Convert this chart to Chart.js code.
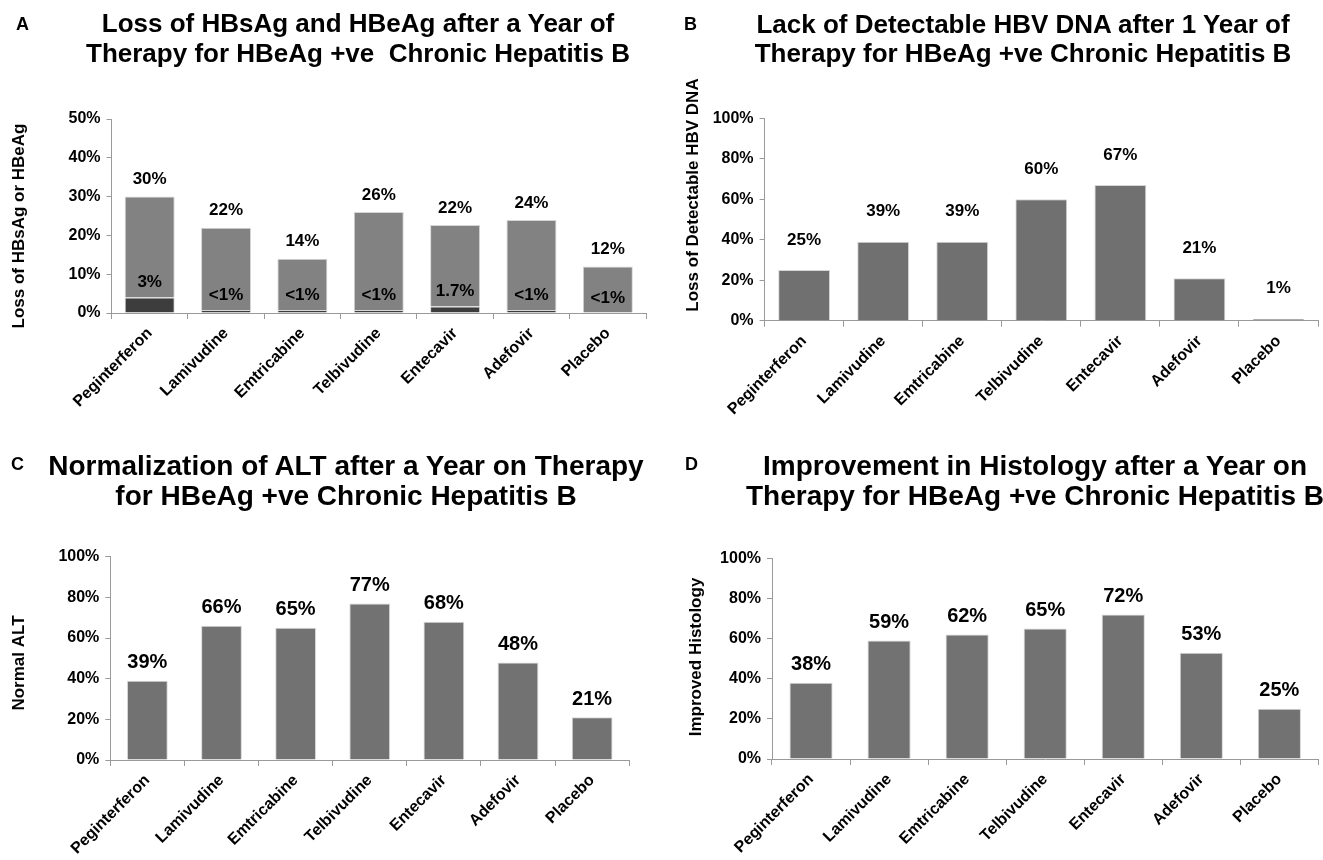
<!DOCTYPE html>
<html>
<head>
<meta charset="utf-8">
<script src="https://cdn.jsdelivr.net/npm/chart.js@4.4.1/dist/chart.umd.min.js"></script>
<style>
  html, body { margin: 0; padding: 0; background: #fff; }
  #page { position: relative; width: 1323px; height: 860px; overflow: hidden; background: #fff; }
  canvas { position: absolute; }
  .title { position: absolute; font-family: "Liberation Sans", Arial, sans-serif; font-weight: bold; color: #000;
           text-align: center; white-space: pre; z-index: 2; }
  .letter { position: absolute; font-family: "Liberation Sans", Arial, sans-serif; font-weight: bold; color: #000;
            font-size: 18px; line-height: 18px; z-index: 2; }
</style>
</head>
<body>
<div id="page">
  <div class="letter" style="left:16px; top:15px;">A</div>
  <div class="title" style="left:-42px; width:800px; top:9px; font-size:26px; line-height:29.5px;">Loss of HBsAg and HBeAg after a Year of
Therapy for HBeAg +ve  Chronic Hepatitis B</div>

  <div class="letter" style="left:684px; top:15px;">B</div>
  <div class="title" style="left:623px; width:800px; top:10px; font-size:26px; line-height:28.5px;">Lack of Detectable HBV DNA after 1 Year of
Therapy for HBeAg +ve Chronic Hepatitis B</div>

  <div class="letter" style="left:11px; top:455px;">C</div>
  <div class="title" style="left:-54px; width:800px; top:451px; font-size:28px; line-height:29.5px;">Normalization of ALT after a Year on Therapy
for HBeAg +ve Chronic Hepatitis B</div>

  <div class="letter" style="left:685px; top:455px;">D</div>
  <div class="title" style="left:635px; width:800px; top:451px; font-size:28px; line-height:29.5px;">Improvement in Histology after a Year on
Therapy for HBeAg +ve Chronic Hepatitis B</div>

  <canvas id="cA" width="660" height="430" style="left:0px; top:0px;"></canvas>
  <canvas id="cB" width="663" height="430" style="left:660px; top:0px;"></canvas>
  <canvas id="cC" width="660" height="430" style="left:0px; top:430px;"></canvas>
  <canvas id="cD" width="663" height="430" style="left:660px; top:430px;"></canvas>
</div>
<script>
// ---------------- DATA ----------------
const categories = ['Peginterferon', 'Lamivudine', 'Emtricabine', 'Telbivudine', 'Entecavir', 'Adefovir', 'Placebo'];

// Panel A: stacked bars (dark = HBsAg loss, light = remaining HBeAg loss)
const hbsagLoss      = [4, 0.8, 0.8, 0.8, 1.7, 0.8, 0];
const hbeagLossUpper = [26, 21.2, 13.2, 25.2, 21, 23.2, 12];
const hbeagLabels    = ['30%', '22%', '14%', '26%', '22%', '24%', '12%'];
const hbsagLabels    = ['3%', '<1%', '<1%', '<1%', '1.7%', '<1%', '<1%'];
const yTicksA        = ['0%', '10%', '20%', '30%', '40%', '50%'];

// Panel B
const hbvDnaUndetectable = [25, 39, 39, 60, 67, 21, 1];
const hbvDnaLabels       = ['25%', '39%', '39%', '60%', '67%', '21%', '1%'];

// Panel C
const altNormal   = [39, 66, 65, 77, 68, 48, 21];
const altLabels   = ['39%', '66%', '65%', '77%', '68%', '48%', '21%'];

// Panel D
const histologyImproved = [38, 59, 62, 65, 72, 53, 25];
const histologyLabels   = ['38%', '59%', '62%', '65%', '72%', '53%', '25%'];

const yTicksPct = ['0%', '20%', '40%', '60%', '80%', '100%'];

// ---------------- HELPERS ----------------
const FONT = '"Liberation Sans", Arial, sans-serif';
const AXIS_GREY = '#9a9a9a';

function labelPlugin(sets, size) {
  return {
    id: 'valueLabels',
    afterDatasetsDraw(chart) {
      const ctx = chart.ctx;
      ctx.save();
      ctx.font = 'bold ' + size + 'px ' + FONT;
      ctx.fillStyle = '#000';
      ctx.textAlign = 'center';
      ctx.textBaseline = 'middle';
      sets.forEach(set => {
        const meta = chart.getDatasetMeta(set.dataset);
        set.labels.forEach((txt, i) => {
          const el = meta.data[i];
          if (!el) return;
          let y = el.y;
          if (!isFinite(y)) y = chart.scales.y.getPixelForValue(0);
          ctx.fillText(txt, el.x, y - set.offset);
        });
      });
      ctx.restore();
    }
  };
}

function yTitlePlugin(text, x, y) {
  return {
    id: 'yTitle',
    afterDraw(chart) {
      const ctx = chart.ctx;
      ctx.save();
      ctx.translate(x, y);
      ctx.rotate(-Math.PI / 2);
      ctx.font = 'bold 17px ' + FONT;
      ctx.fillStyle = '#000';
      ctx.textAlign = 'center';
      ctx.textBaseline = 'middle';
      ctx.fillText(text, 0, 0);
      ctx.restore();
    }
  };
}

function makeChart(id, cfg) {
  const stacked = !!cfg.stacked;
  return new Chart(document.getElementById(id), {
    type: 'bar',
    data: { labels: categories, datasets: cfg.datasets },
    options: {
      responsive: false,
      animation: false,
      devicePixelRatio: 1,
      layout: { padding: cfg.padding },
      plugins: { legend: { display: false }, tooltip: { enabled: false }, title: { display: false } },
      datasets: { bar: { categoryPercentage: 1, barPercentage: cfg.barPct } },
      scales: {
        x: {
          stacked: stacked,
          grid: { display: true, drawOnChartArea: false, drawTicks: true, tickLength: 6, color: AXIS_GREY, offset: true },
          border: { display: true, color: AXIS_GREY, width: 1 },
          ticks: { autoSkip: false, maxRotation: 45, minRotation: 45, padding: 5, color: '#000',
                   font: { family: FONT, size: 16, weight: 'bold' } },
          afterFit(scale) { scale.height = cfg.xHeight; }
        },
        y: {
          stacked: stacked,
          min: 0, max: cfg.yMax,
          ticks: { stepSize: cfg.yStep, padding: 6, color: '#000',
                   font: { family: FONT, size: 16, weight: 'bold' },
                   callback: (v, i) => cfg.yTicks[i] },
          grid: { display: true, drawOnChartArea: false, drawTicks: true, tickLength: 5, color: AXIS_GREY },
          border: { display: true, color: AXIS_GREY, width: 1 },
          afterFit(scale) { scale.width = cfg.yWidth; }
        }
      }
    },
    plugins: [labelPlugin(cfg.labelSets, cfg.labelSize), yTitlePlugin(cfg.yTitle, cfg.yTitleX, cfg.yTitleY)]
  });
}

const barStyle = { borderColor: '#d6d6d6', borderWidth: 1 };

// ---------------- PANEL A ----------------
makeChart('cA', {
  stacked: true,
  datasets: [
    Object.assign({ label: 'HBsAg loss', data: hbsagLoss, backgroundColor: '#3d3d3d' }, barStyle),
    Object.assign({ label: 'HBeAg loss', data: hbeagLossUpper, backgroundColor: '#828282' }, barStyle)
  ],
  padding: { left: 0, top: 119, right: 14, bottom: 0 },
  yWidth: 111.5, xHeight: 117,
  yMax: 50, yStep: 10, yTicks: yTicksA,
  barPct: 0.655,
  labelSets: [
    { dataset: 1, labels: hbeagLabels, offset: 17 },
    { dataset: 0, labels: hbsagLabels, offset: 15 }
  ],
  labelSize: 17,
  yTitle: 'Loss of HBsAg or HBeAg', yTitleX: 19, yTitleY: 226
});

// ---------------- PANEL B ----------------
makeChart('cB', {
  datasets: [Object.assign({ label: 'Undetectable HBV DNA', data: hbvDnaUndetectable, backgroundColor: '#707070' }, barStyle)],
  padding: { left: 0, top: 118.3, right: 5, bottom: 0 },
  yWidth: 104.6, xHeight: 109.3,
  yMax: 100, yStep: 20, yTicks: yTicksPct,
  barPct: 0.656,
  labelSets: [{ dataset: 0, labels: hbvDnaLabels, offset: 30 }],
  labelSize: 17,
  yTitle: 'Loss of Detectable HBV DNA', yTitleX: 33, yTitleY: 195
});

// ---------------- PANEL C ----------------
makeChart('cC', {
  datasets: [Object.assign({ label: 'Normal ALT', data: altNormal, backgroundColor: '#727272' }, barStyle)],
  padding: { left: 0, top: 126.7, right: 30.8, bottom: 0 },
  yWidth: 110.3, xHeight: 100,
  yMax: 100, yStep: 20, yTicks: yTicksPct,
  barPct: 0.55,
  labelSets: [{ dataset: 0, labels: altLabels, offset: 18 }],
  labelSize: 20,
  yTitle: 'Normal ALT', yTitleX: 19, yTitleY: 233
});

// ---------------- PANEL D ----------------
makeChart('cD', {
  datasets: [Object.assign({ label: 'Improved Histology', data: histologyImproved, backgroundColor: '#727272' }, barStyle)],
  padding: { left: 0, top: 128.3, right: 4.6, bottom: 0 },
  yWidth: 112, xHeight: 101,
  yMax: 100, yStep: 20, yTicks: yTicksPct,
  barPct: 0.553,
  labelSets: [{ dataset: 0, labels: histologyLabels, offset: 18 }],
  labelSize: 20,
  yTitle: 'Improved Histology', yTitleX: 36, yTitleY: 227
});
</script>
</body>
</html>
